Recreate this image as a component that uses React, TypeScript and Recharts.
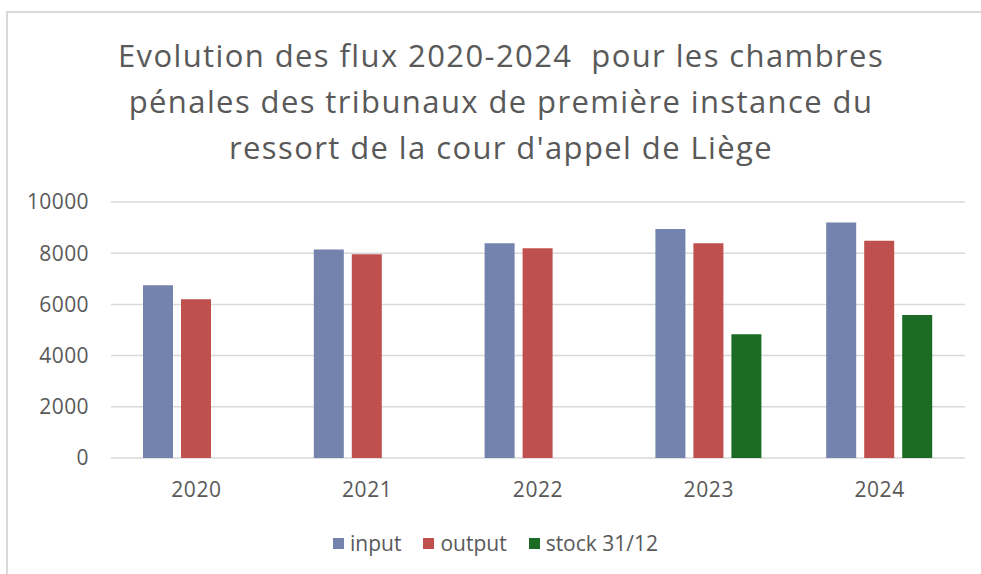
import React from 'react';
import { BarChart, Bar, XAxis, YAxis, CartesianGrid, Legend } from 'recharts';

const years = ['2020', '2021', '2022', '2023', '2024'];
const inputValues = [6750, 8140, 8390, 8950, 9200];
const outputValues = [6200, 7960, 8190, 8390, 8490];
const stockValues: (number | null)[] = [null, null, null, 4830, 5590];
const yTicks = [0, 2000, 4000, 6000, 8000, 10000];
const titleLines = [
  'Evolution des flux 2020-2024  pour les chambres',
  'pénales des tribunaux de première instance du',
  "ressort de la cour d'appel de Liège",
];

const data = years.map((y, i) => ({
  year: y,
  input: inputValues[i],
  output: outputValues[i],
  stock: stockValues[i],
}));

const FONT = '"Open Sans", "Liberation Sans", sans-serif';
const TXT = '#595959';

const LegendContent = (props: any) => {
  const payload = props.payload || [];
  return (
    <div style={{ display: 'flex', alignItems: 'center', fontFamily: FONT, fontSize: 21, color: TXT, lineHeight: '26px' }}>
      {payload.map((p: any, i: number) => (
        <div key={i} style={{ display: 'flex', alignItems: 'center', marginRight: 22 }}>
          <div style={{ width: 11, height: 11, background: p.color, marginRight: 6 }} />
          <span>{p.value}</span>
        </div>
      ))}
    </div>
  );
};

export default function App() {
  return (
    <div style={{ position: 'absolute', left: 0, top: 0, width: 981, height: 574, background: '#fff', overflow: 'hidden' }}>
      <div style={{ position: 'absolute', left: 6, top: 11, width: 975, height: 563, borderTop: '2px solid #d9d9d9', borderLeft: '2px solid #d9d9d9', boxSizing: 'border-box' }} />
      <div style={{ position: 'absolute', left: 20, top: 32, width: 962, textAlign: 'center', fontFamily: FONT, fontSize: 31, letterSpacing: 1.4, color: TXT, lineHeight: '46px' }}>
        {titleLines.map((l, i) => (
          <div key={i} style={{ whiteSpace: 'pre' }}>{l}</div>
        ))}
      </div>
      <div style={{ position: 'absolute', left: 0, top: 0 }}>
        <BarChart width={981} height={574} data={data} margin={{ top: 202, right: 16, bottom: 60, left: 0 }} barGap={8} barSize={30}>
          <CartesianGrid vertical={false} stroke="#d9d9d9" strokeWidth={1.5} />
          <XAxis dataKey="year" axisLine={false} tickLine={false} tickSize={0} tickMargin={24} tick={{ fill: TXT, fontSize: 21, fontFamily: FONT, letterSpacing: 0.6 }} />
          <YAxis width={111} domain={[0, 10000]} ticks={yTicks} axisLine={false} tickLine={false} tickSize={0} tickMargin={22} tick={{ fill: TXT, fontSize: 21, fontFamily: FONT, letterSpacing: 0.4 }} />
          <Legend content={<LegendContent />} wrapperStyle={{ position: 'absolute', top: 530, left: 333, width: 500, height: 26 }} />
          <Bar dataKey="input" name="input" fill="#7482AE" isAnimationActive={false} />
          <Bar dataKey="output" name="output" fill="#C0504D" isAnimationActive={false} />
          <Bar dataKey="stock" name="stock 31/12" fill="#1B6B24" isAnimationActive={false} />
        </BarChart>
      </div>
    </div>
  );
}
